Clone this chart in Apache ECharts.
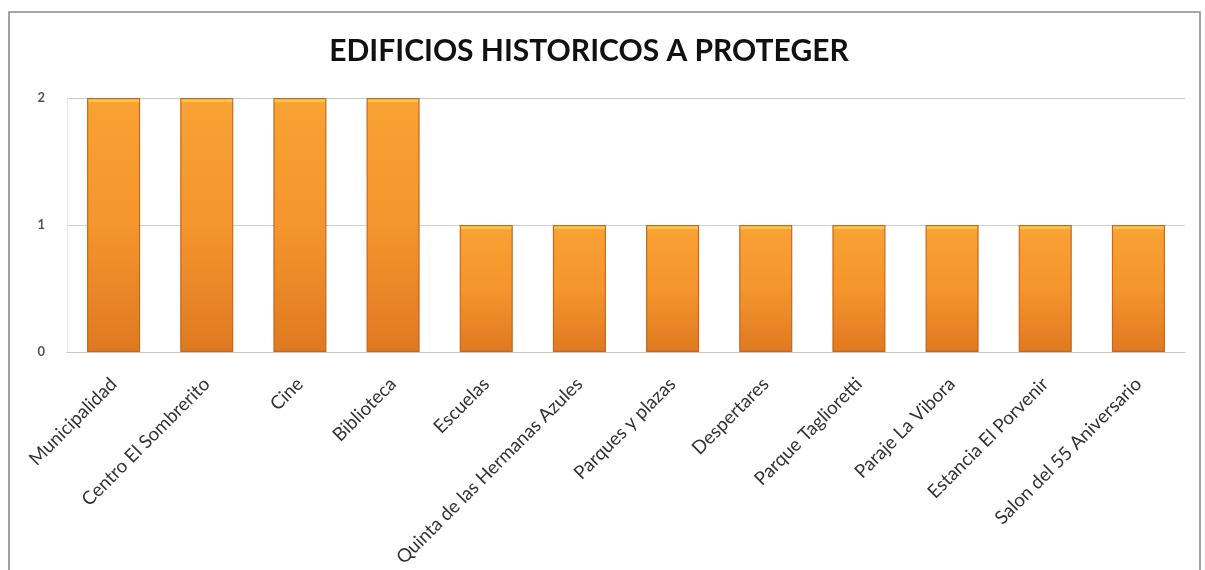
<!DOCTYPE html>
<html>
<head>
<meta charset="utf-8">
<script src="https://cdn.jsdelivr.net/npm/echarts@6/dist/echarts.min.js"></script>
<style>
html,body{margin:0;padding:0;background:#fff;}
#c{width:1205px;height:570px;}
</style>
</head>
<body>
<div id="c"></div>
<script>
const titleText = 'EDIFICIOS HISTORICOS A PROTEGER';
const categories = ['Municipalidad','Centro El Sombrerito','Cine','Biblioteca','Escuelas','Quinta de las Hermanas Azules','Parques y plazas','Despertares','Parque Taglioretti','Paraje La Vibora','Estancia El Porvenir','Salon del 55 Aniversario'];
const values = [2,2,2,2,1,1,1,1,1,1,1,1];
const yTicks = [0,1,2];

function barColor(v){
  const cap = 0.026 / v;
  return {
    type:'linear', x:0, y:0, x2:0, y2:1,
    colorStops:[
      {offset:0, color:'#fdd865'},
      {offset:cap, color:'#fbc24a'},
      {offset:cap*1.5, color:'#f9a133'},
      {offset:0.5, color:'#f5952d'},
      {offset:1, color:'#df7921'}
    ]
  };
}

const chart = echarts.init(document.getElementById('c'), null, {renderer:'canvas'});
chart.setOption({
  animation:false,
  backgroundColor:'#ffffff',
  title:{
    text:titleText,
    left:584, top:31, textAlign:'center',
    textStyle:{fontFamily:'Lato', fontWeight:'bold', fontSize:30, color:'#111'}
  },
  graphic:[{
    type:'rect', silent:true, z:-1,
    shape:{x:9, y:12, width:1191, height:600},
    style:{fill:'none', stroke:'#8a8a8a', lineWidth:1.6}
  }],
  grid:{left:67, right:20, top:98, bottom:218, containLabel:false},
  xAxis:{
    type:'category',
    data:categories,
    axisLine:{show:true, lineStyle:{color:'#c8c8c8', width:1}},
    axisTick:{show:false},
    axisLabel:{rotate:45, interval:0, margin:29, fontFamily:'Lato', fontSize:18.7, color:'#333'}
  },
  yAxis:{
    type:'value', min:yTicks[0], max:yTicks[yTicks.length-1], interval:1,
    axisLine:{show:true, lineStyle:{color:'#e6e6e6'}},
    axisTick:{show:false},
    axisLabel:{margin:22, fontFamily:'Lato', fontWeight:'bold', fontSize:13, color:'#555'},
    splitLine:{lineStyle:{color:'#cfcfcf', width:1}}
  },
  series:[{
    type:'bar',
    data:values.map(v=>({value:v, itemStyle:{color:barColor(v)}})),
    barCategoryGap:'43%',
    itemStyle:{borderColor:'rgba(190,96,22,0.9)', borderWidth:1.2}
  }]
});
</script>
</body>
</html>
